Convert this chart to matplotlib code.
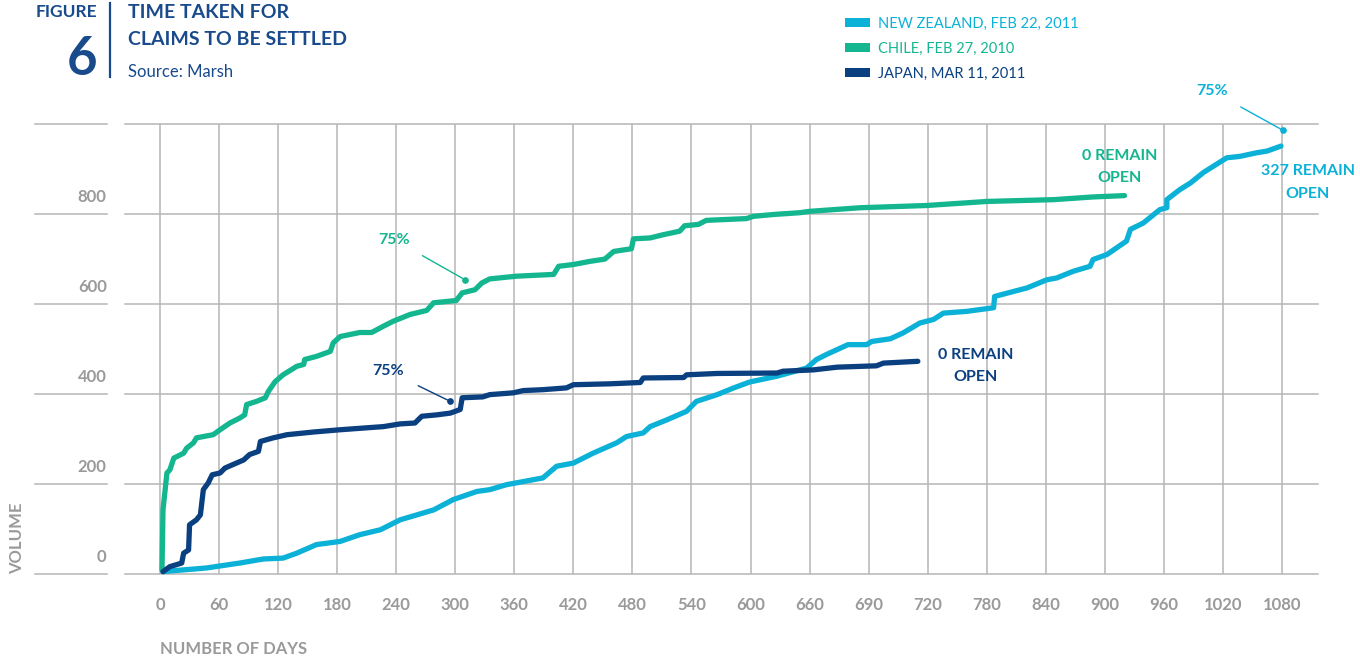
import matplotlib
matplotlib.use("Agg")
import matplotlib.pyplot as plt
from matplotlib.transforms import blended_transform_factory, ScaledTranslation
from matplotlib.patches import Rectangle

plt.rcParams['font.family'] = ['Lato', 'DejaVu Sans']

# ---------------------------------------------------------------- data
x_ticks = [0, 60, 120, 180, 240, 300, 360, 420, 480, 540, 600, 660,
           720, 780, 840, 900, 960, 1020, 1080, 1140]
x_tick_labels = ['0', '60', '120', '180', '240', '300', '360', '420', '480',
                 '540', '600', '660', '690', '720', '780', '840', '900',
                 '960', '1020', '1080']
y_ticks = [0, 200, 400, 600, 800, 1000]
y_tick_labels = ['0', '200', '400', '600', '800', '']

series_names = ['NEW ZEALAND, FEB 22, 2011', 'CHILE, FEB 27, 2010',
                'JAPAN, MAR 11, 2011']

nz_days = [3, 47, 81, 105, 125, 139, 159, 183, 203, 224, 244, 278, 298, 322,
           335, 352, 389, 403, 420, 440, 464, 474, 491, 498, 515, 535, 545,
           566, 583, 599, 627, 657, 667, 677, 699, 718, 723, 742, 755, 772,
           786, 796, 820, 847, 848, 867, 881, 901, 911, 928, 945, 948, 962,
           982, 986, 999, 1016, 1023, 1023, 1036, 1047, 1060, 1073, 1084,
           1097, 1114, 1125, 1139]
nz_volume = [6, 14, 25, 34, 36, 47, 66, 73, 88, 99, 121, 143, 166, 184, 188,
             199, 214, 240, 247, 269, 292, 306, 314, 328, 343, 362, 384, 399,
             414, 427, 440, 458, 477, 488, 510, 510, 517, 523, 536, 558, 566,
             580, 584, 592, 617, 628, 636, 654, 658, 673, 684, 699, 710, 740,
             766, 780, 810, 814, 832, 854, 869, 892, 910, 925, 928, 936, 940,
             951]

chile_days = [2, 3, 7, 10, 14, 24, 27, 34, 37, 54, 61, 71, 81, 86, 88, 98,
              107, 110, 117, 125, 139, 146, 147, 159, 173, 176, 183, 203, 215,
              227, 237, 254, 271, 278, 301, 307, 320, 327, 335, 362, 400, 405,
              420, 437, 452, 461, 479, 481, 498, 511, 528, 533, 547, 555, 596,
              603, 623, 650, 660, 711, 779, 840, 908, 948, 980]
chile_volume = [10, 143, 225, 232, 258, 269, 280, 292, 303, 310, 321, 336,
                347, 354, 377, 384, 392, 406, 428, 443, 462, 466, 477, 484,
                495, 514, 528, 537, 537, 551, 562, 577, 586, 603, 608, 625,
                632, 647, 656, 662, 666, 684, 688, 695, 700, 717, 723, 745,
                747, 754, 762, 774, 777, 786, 790, 795, 799, 803, 806, 814,
                819, 828, 832, 838, 841]

japan_days = [3, 10, 22, 24, 29, 30, 37, 41, 44, 49, 53, 61, 66, 85, 91, 100,
              102, 115, 129, 156, 183, 227, 244, 259, 266, 281, 295, 305, 307,
              328, 335, 359, 369, 389, 413, 420, 457, 488, 491, 532, 535, 566,
              627, 633, 664, 688, 728, 735, 770]
japan_volume = [6, 17, 25, 47, 54, 110, 121, 132, 188, 203, 221, 225, 236,
                254, 266, 273, 295, 303, 310, 316, 321, 328, 334, 336, 351,
                354, 358, 366, 392, 394, 399, 403, 408, 410, 414, 421, 423,
                426, 436, 437, 443, 446, 447, 451, 454, 460, 463, 469, 473]

# 75% settlement markers (day, volume) and their label anchors
chile_75_point = (310, 654)
chile_75_label = (238, 743)
japan_75_point = (295, 384)
japan_75_label = (232, 451)
nz_75_point = (1141, 986)
nz_75_label = (1069, 1073)

# ---------------------------------------------------------------- style
NZ_COLOR = '#0bb1d6'
CHILE_COLOR = '#13b68f'
JAPAN_COLOR = '#0a3f80'
NAVY = '#184a8c'
GRAY = '#9a9a9a'
GRID = '#b5b5b5'

W, H = 1360, 659


def fx(px):
    return px / W


def fy(py):
    return 1 - py / H


fig = plt.figure(figsize=(W / 100, H / 100), dpi=100)
ax = fig.add_axes([fx(125), fy(574.3), (1318 - 125) / W, (574.3 - 124) / H])
ax.set_xlim(-35.6, 1176.6)
ax.set_ylim(0, 1000)
for s in ax.spines.values():
    s.set_visible(False)

# grid
for v in y_ticks:
    ax.axhline(v, color=GRID, lw=1.1, clip_on=False, zorder=1)
ax.vlines(x_ticks, 0, 1000, color=GRID, lw=1.1, clip_on=False, zorder=1)

# left-hand scale: short rules with the values sitting above them
left_tr = blended_transform_factory(fig.transFigure, ax.transData)
label_tr = left_tr + ScaledTranslation(0, 12 / 100, fig.dpi_scale_trans)
for v, lab in zip(y_ticks, y_tick_labels):
    ax.plot([fx(35), fx(107)], [v, v], color=GRID, lw=1.1,
            transform=left_tr, clip_on=False)
    if lab:
        ax.text(fx(106.7), v, lab, transform=label_tr, ha='right',
                va='baseline', fontsize=12, fontweight='bold', color=GRAY)
ax.set_yticks([])

ax.set_xticks(x_ticks, x_tick_labels)
ax.tick_params(axis='x', length=0, pad=16, labelsize=12, labelcolor=GRAY)
for lbl in ax.get_xticklabels():
    lbl.set_fontweight('bold')

# series
line_kw = dict(lw=3.8, solid_capstyle='round', solid_joinstyle='round',
               clip_on=False, zorder=3)
ax.plot(nz_days, nz_volume, color=NZ_COLOR, **line_kw)
ax.plot(chile_days, chile_volume, color=CHILE_COLOR, **line_kw)
ax.plot(japan_days, japan_volume, color=JAPAN_COLOR, **line_kw)

# 75% call-outs
for pt, lab, col in [(chile_75_point, chile_75_label, CHILE_COLOR),
                     (japan_75_point, japan_75_label, JAPAN_COLOR),
                     (nz_75_point, nz_75_label, NZ_COLOR)]:
    ax.annotate('75%', xy=pt, xytext=lab, textcoords='data', ha='center',
                va='center', fontsize=11.5, fontweight='bold', color=col,
                annotation_clip=False,
                arrowprops=dict(arrowstyle='-', color=col, lw=1.0,
                                shrinkA=9, shrinkB=0))
    ax.plot(*pt, 'o', color=col, ms=3.8, clip_on=False, zorder=4)


def stacked(x, y, lines, color):
    """Two-line bold label centred on (x, y) in data units."""
    base = ax.transData
    offsets = [5.5, -17]
    for txt, off in zip(lines, offsets):
        ax.text(x, y, txt, color=color, fontsize=11.5, fontweight='bold',
                ha='center', va='baseline', clip_on=False,
                transform=base + ScaledTranslation(0, off / 100,
                                                   fig.dpi_scale_trans))


stacked(975, 908, ['0 REMAIN', 'OPEN'], CHILE_COLOR)
stacked(829, 467, ['0 REMAIN', 'OPEN'], JAPAN_COLOR)
stacked(1166, 874, ['327 REMAIN', 'OPEN'], NZ_COLOR)

# axis titles
fig.text(fx(160), fy(654), 'NUMBER OF DAYS', ha='left', va='baseline',
         fontsize=12, fontweight='bold', color=GRAY)
fig.text(fx(17), fy(538), 'VOLUME', ha='center', va='center', rotation=90,
         fontsize=12, fontweight='bold', color=GRAY)

# header
fig.text(fx(97), fy(16.7), 'FIGURE', ha='right', va='baseline',
         fontsize=12.5, fontweight='bold', color=NAVY)
fig.text(fx(97.5), fy(75), '6', ha='right', va='baseline',
         fontsize=38, fontweight='bold', color=NAVY)
fig.add_artist(plt.Line2D([fx(110), fx(110)], [fy(3), fy(77)],
                          color=NAVY, lw=1.6))
fig.text(fx(128), fy(18.3), 'TIME TAKEN FOR', ha='left', va='baseline',
         fontsize=14, fontweight='bold', color=NAVY)
fig.text(fx(128), fy(45), 'CLAIMS TO BE SETTLED', ha='left', va='baseline',
         fontsize=14, fontweight='bold', color=NAVY)
fig.text(fx(128), fy(77.3), 'Source: Marsh', ha='left', va='baseline',
         fontsize=12, color=NAVY)

# legend
for name, col, yc in zip(series_names, [NZ_COLOR, CHILE_COLOR, JAPAN_COLOR],
                         [22, 47, 72]):
    fig.add_artist(Rectangle((fx(845), fy(yc + 4.5)), 25 / W, 9 / H,
                             transform=fig.transFigure, color=col, lw=0))
    fig.text(fx(878), fy(yc + 5.5), name, ha='left', va='baseline',
             fontsize=10.5, color=col)

fig.savefig('out.png', dpi=100)
